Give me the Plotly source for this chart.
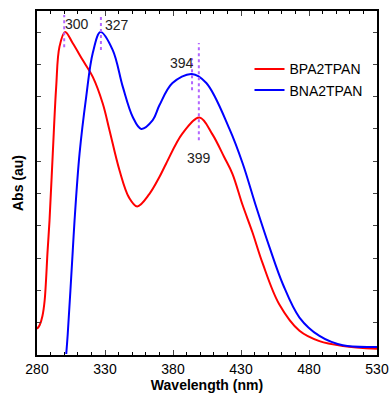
import plotly.graph_objects as go

# Data
bpa_x = [280, 282, 284, 285.6, 287.8, 289.2, 291.6, 294.1, 296.5, 300.7, 306.3, 313.6, 321, 328.4,
         333.3, 340.7, 347.6, 353.7, 362.7, 370, 375, 387, 399.5, 409, 417.6, 423.7, 431.1, 438.4,
         445.8, 458.1, 473, 487.7, 505, 530]
bpa_y = [0.081, 0.093, 0.121, 0.168, 0.323, 0.416, 0.624, 0.83, 0.954, 1.0, 0.965, 0.913, 0.861, 0.778,
         0.696, 0.571, 0.488, 0.46, 0.499, 0.551, 0.593, 0.686, 0.735, 0.683, 0.613, 0.561, 0.465, 0.380,
         0.285, 0.157, 0.075, 0.043, 0.028, 0.019]

bna_x = [301.5, 302.6, 306.3, 307.6, 311.3, 316.2, 321, 326.7, 335.7, 343.1, 350.4, 356.6, 365.1,
         370, 379.6, 393.8, 404.5, 421.5, 431.3, 441.2, 451, 460.8, 473, 487.7, 504.8, 530]
bna_y = [0.003, 0.065, 0.323, 0.416, 0.624, 0.8, 0.935, 1.0, 0.944, 0.83, 0.737, 0.70, 0.727,
         0.773, 0.842, 0.87, 0.842, 0.700, 0.592, 0.458, 0.333, 0.219, 0.116, 0.059, 0.030, 0.025]

peak_labels = ["300", "327", "394", "399"]
peak_x = [300, 327, 394, 399]
peak_line_y0 = [0.953, 0.944, 0.82, 0.665]
peak_line_y1 = [1.053, 1.047, 0.919, 0.966]

x_ticks = [280, 330, 380, 430, 480, 530]

fig = go.Figure()
fig.add_trace(go.Scatter(x=bpa_x, y=bpa_y, mode="lines", name="BPA2TPAN",
                         line=dict(color="#ff0000", width=2, shape="spline", smoothing=1.0)))
fig.add_trace(go.Scatter(x=bna_x, y=bna_y, mode="lines", name="BNA2TPAN",
                         line=dict(color="#0000ff", width=2, shape="spline", smoothing=1.0)))

for px, y0, y1 in zip(peak_x, peak_line_y0, peak_line_y1):
    fig.add_shape(type="line", x0=px, x1=px, y0=y0, y1=y1, xref="x", yref="y",
                  line=dict(color="#b266ff", width=2, dash="dot"))

label_pos = [(309.5, 1.025), (338.5, 1.023), (386.5, 0.905), (399, 0.61)]
for lab, (lx, ly) in zip(peak_labels, label_pos):
    fig.add_annotation(x=lx, y=ly, text=lab, showarrow=False, xanchor="center",
                       font=dict(family="Arial, Liberation Sans", size=14, color="#222"))

fig.update_layout(
    width=389, height=403,
    margin=dict(l=37, r=12, t=11, b=48),
    plot_bgcolor="white", paper_bgcolor="white",
    font=dict(family="Arial, Liberation Sans", size=14, color="black"),
    showlegend=True,
    legend=dict(x=0.625, y=0.80, xanchor="left", yanchor="middle",
                bgcolor="rgba(0,0,0,0)", font=dict(size=14), tracegroupgap=0,
                itemwidth=30),
)
fig.update_xaxes(range=[280, 530], tickvals=x_ticks, ticks="inside", ticklen=5,
                 showline=True, linecolor="black", linewidth=1.5, mirror="ticks",
                 showgrid=False, zeroline=False, automargin=False,
                 minor=dict(dtick=10, ticks="inside", ticklen=3, tickcolor="black"),
                 title=dict(text="<b>Wavelength (nm)</b>", font=dict(size=14), standoff=4),
                 tickfont=dict(size=14))
fig.update_yaxes(range=[0, 1.065], dtick=0.1, tick0=0, ticks="inside", ticklen=4,
                 showticklabels=False, showline=True, linecolor="black", linewidth=1.5,
                 mirror="ticks", showgrid=False, zeroline=False, automargin=False,
                 title=dict(text="<b>Abs (au)</b>", font=dict(size=14), standoff=8))

fig.write_html("out.html", config={"displayModeBar": False},
               post_script="document.body.style.margin='0';document.body.style.overflow='hidden';")
